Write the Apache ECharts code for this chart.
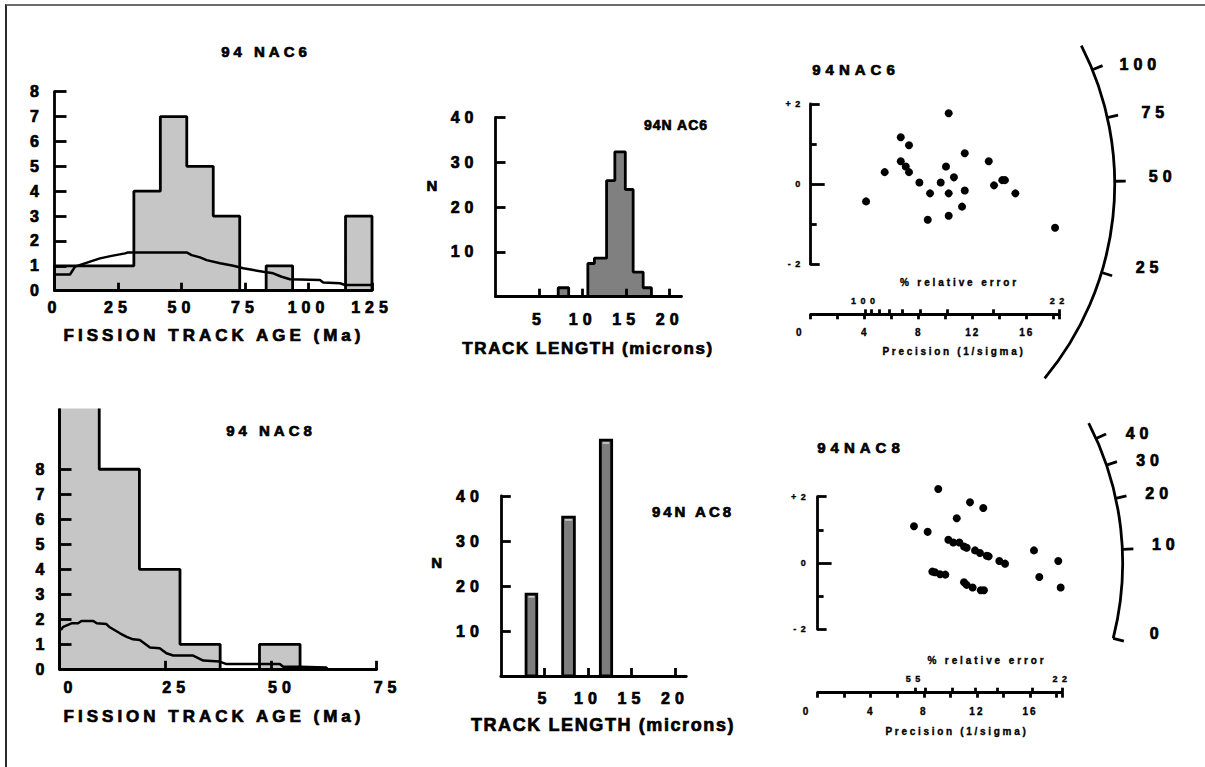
<!DOCTYPE html>
<html><head><meta charset="utf-8">
<script src="https://cdn.jsdelivr.net/npm/echarts@6/dist/echarts.min.js"></script>
<style>
html,body{margin:0;padding:0;background:#fff;overflow:hidden;}
#chart{position:absolute;left:0;top:0;width:1205px;height:767px;}
#frame{position:absolute;left:5px;top:4px;width:1300px;height:900px;border-top:2px solid #6b6b6b;border-left:2px solid #2a2a2a;pointer-events:none;}
</style></head><body>
<div id="chart"></div><div id="frame"></div>
<script>
// ================= DATA =================
// 94NAC6 – fission track age histogram (Ma)
const ageEdges6 = [0, 10.42, 20.83, 31.25, 41.67, 52.08, 62.5, 72.92, 83.33, 93.75, 104.17, 114.58, 125];
const ageCounts6 = [1, 1, 1, 4, 7, 5, 3, 0, 1, 0, 0, 3];
const pdfAge6 = [0.2, 6.1, 8.1, 14, 17.9, 22.5, 27.8, 29, 52, 54, 57.3, 59.9, 65.2, 70.4, 74.3, 78.3, 82.2, 86.1, 89.4, 92.7, 104.5, 105.8, 112.4, 114.4, 125];
const pdfVal6 = [0.65, 0.65, 0.97, 1.17, 1.3, 1.4, 1.5, 1.54, 1.54, 1.43, 1.34, 1.23, 1.1, 1.0, 0.9, 0.83, 0.76, 0.7, 0.56, 0.46, 0.43, 0.33, 0.3, 0.23, 0.23];
const ageTicks6 = [0, 25, 50, 75, 100, 125];
const countTicks = [0, 1, 2, 3, 4, 5, 6, 7, 8];

// 94NAC8 – fission track age histogram (Ma)
const ageEdges8 = [0, 9.4, 18.9, 28.5, 38, 47.3, 56.9];
const ageCounts8 = [16, 8, 4, 1, 0, 1];
const pdfAge8 = [0.33, 0.88, 2.85, 4.4, 5.2, 8.0, 8.8, 11.1, 11.9, 14.3, 15.9, 17.4, 19, 20.6, 21.4, 23.7, 25.3, 26.9, 31.6, 34, 37.9, 39.5, 52.1, 52.9, 56.8, 63.1, 63.5];
const pdfVal8 = [1.57, 1.7, 1.84, 1.84, 1.93, 1.93, 1.84, 1.81, 1.68, 1.44, 1.3, 1.2, 1.17, 0.97, 0.87, 0.84, 0.64, 0.55, 0.55, 0.35, 0.31, 0.21, 0.21, 0.1, 0.1, 0.07, 0];
const ageTicks8 = [0, 25, 50, 75];

// Track length histograms (microns)
const lenStart6 = [7.2, 10.6, 11.35, 12.75, 13.7, 14.9, 15.8, 16.95];
const lenEnd6 = [8.4, 11.35, 12.75, 13.7, 14.9, 15.8, 16.95, 17.9];
const lenCounts6 = [2, 7.4, 8.6, 25.9, 32.3, 23.9, 5.5, 2.0];
const lenStart8 = [2.9, 7.1, 11.43];
const lenEnd8 = [4.13, 8.45, 12.73];
const lenCounts8 = [18.2, 35.3, 52.4];
const lenTicks = [5, 10, 15, 20];
const nTicks = [10, 20, 30, 40];

// Radial plots: precision (1/sigma) and standardised estimate
const precC = [4.10, 5.48, 6.67, 7.28, 6.67, 7.04, 7.28, 8.05, 8.84, 8.67, 9.63, 10.02, 10.22, 10.22, 10.22, 10.61, 11.41, 11.41, 11.21, 13.19, 13.58, 14.19, 14.39, 15.16, 18.10];
const stdC = [-0.43, 0.30, 1.17, 0.97, 0.57, 0.44, 0.30, 0.04, -0.23, -0.89, 0.04, 0.44, 1.77, -0.23, -0.79, 0.17, 0.77, -0.16, -0.56, 0.57, -0.03, 0.10, 0.10, -0.23, -1.09];
const precF = [9.09, 11.48, 12.48, 10.48, 7.26, 8.29, 9.85, 10.22, 10.68, 11.03, 11.23, 11.86, 12.23, 12.74, 12.89, 13.69, 14.12, 16.3, 18.13, 16.7, 18.31, 8.64, 8.84, 9.22, 9.62, 11.03, 11.23, 11.68, 12.29, 12.53];
const stdF = [2.23, 1.83, 1.66, 1.35, 1.11, 0.94, 0.70, 0.62, 0.62, 0.50, 0.46, 0.38, 0.30, 0.22, 0.20, 0.06, -0.02, 0.38, 0.06, -0.42, -0.74, -0.26, -0.28, -0.34, -0.35, -0.58, -0.66, -0.74, -0.82, -0.82];
const precTicks = [0, 2, 4, 6, 8, 10, 12, 14, 16, 18];
const precLabels = [0, 4, 8, 12, 16];
const relErrK = 405;             // precision = K / % relative error
const relErrTicksC = [100, 90, 80, 70, 60, 50, 40, 30, 22];
const relErrLabelsC = [100, 22];
const relErrTicksF = [55, 50, 40, 34, 30, 25, 22];
const relErrLabelsF = [55, 22];
// Radial age scales (arc radius in precision units, tick ages and their angles in degrees)
const arcRadiusC = 22.52;
const arcAgesC = [100, 75, 50, 25];
const arcAnglesC = [22.1, 12.65, 0.55, -16.9];
const arcRadiusF = 22.98;
const arcAgesF = [40, 30, 20, 10, 0];
const arcAnglesF = [24.1, 18.7, 12.25, 2.57, -14.3];

// ================= HELPERS =================
const FONT = 'Liberation Sans';
const INK = '#000';
const LW = 2.8;
function histPath(starts, ends, counts) {
  const pts = []; let lastX = null;
  for (let i = 0; i < counts.length; i++) {
    if (lastX === null || Math.abs(starts[i] - lastX) > 1e-9) {
      if (lastX !== null) pts.push([lastX, 0]);
      pts.push([starts[i], 0]);
    }
    pts.push([starts[i], counts[i]]);
    lastX = ends[i];
  }
  pts.push([lastX, 0]);
  return pts;
}
const zip = (a, b) => a.map((v, i) => [v, b[i]]);
const precMax = relErrK / 22;

function ax(o) {
  const fs = o.fontSize || 16;
  return {
    type: 'value', gridIndex: o.grid, min: o.min, max: o.max, z: 10,
    position: o.position, offset: o.offset || 0,
    axisLine: { show: o.line !== false, onZero: false, lineStyle: { color: INK, width: LW } },
    splitLine: { show: false },
    axisTick: o.ticks ? { show: true, inside: o.tickInside !== false, length: o.tickLen || 8, customValues: o.ticks, lineStyle: { color: INK, width: LW } } : { show: false },
    axisLabel: o.labels ? {
      show: true, customValues: o.labels, inside: !!o.labelInside, margin: o.margin,
      color: INK, fontFamily: FONT, fontWeight: 'bold', fontSize: fs,
      textBorderColor: INK, textBorderWidth: fs >= 13 ? 0.7 : 0.35,
      padding: o.padding || 0,
      formatter: o.formatter, rich: o.rich
    } : { show: false }
  };
}
const yLab = v => v > 0 ? '+2' : (v < 0 ? '-2' : '0');
const zeroLeft = v => v === 0 ? '{z|0}' : String(v);
const zRich = { z: { padding: [0, 22, 0, 0], fontFamily: FONT, fontWeight: 'bold', fontSize: 10, color: INK, textBorderColor: INK, textBorderWidth: 0.35 } };

function arcRender(a0, a1) {
  return function (params, api) {
    const o = api.coord([0, 0]);
    const r = api.size([api.value(0), 0])[0];
    return { type: 'arc', shape: { cx: o[0], cy: o[1], r: r, startAngle: -a1 * Math.PI / 180, endAngle: -a0 * Math.PI / 180, clockwise: true },
      style: { stroke: INK, lineWidth: LW, fill: null } };
  };
}
function arcTickRender(R, labelDx) {
  return function (params, api) {
    const o = api.coord([0, 0]);
    const r = api.size([R, 0])[0];
    const th = api.value(1) * Math.PI / 180;
    const c = Math.cos(th), s = Math.sin(th);
    const x1 = o[0] + r * c, y1 = o[1] - r * s;
    const x2 = o[0] + (r + 11) * c, y2 = o[1] - (r + 11) * s;
    return { type: 'group', children: [
      { type: 'line', shape: { x1: x1, y1: y1, x2: x2, y2: y2 }, style: { stroke: INK, lineWidth: LW } },
      { type: 'text', x: x1 + labelDx, y: y1 - 5, style: { text: String(api.value(0)), fill: INK, stroke: INK, lineWidth: 0.7, fontFamily: FONT, fontWeight: 'bold', fontSize: 16, align: 'center', verticalAlign: 'middle', textAlign: 'center', textVerticalAlign: 'middle' } }
    ] };
  };
}
function barRender(params, api) {
  const p0 = api.coord([api.value(0), api.value(2)]);
  const p1 = api.coord([api.value(1), 0]);
  return { type: 'group', children: [
    { type: 'rect', shape: { x: p0[0], y: p0[1], width: p1[0] - p0[0], height: p1[1] - p0[1] }, style: { fill: '#7d7d7d', stroke: INK, lineWidth: LW } },
    { type: 'line', shape: { x1: p0[0] + 2.5, y1: p0[1] + 2.8, x2: p1[0] - 2.5, y2: p0[1] + 2.8 }, style: { stroke: '#fff', lineWidth: 1 } }
  ] };
}
function txt(text, x, y, size) {
  return { type: 'text', x: x, y: y, silent: true, style: { text: text, fill: INK, stroke: INK, lineWidth: size >= 13 ? 0.7 : 0.35, fontFamily: FONT, fontWeight: 'bold', fontSize: size, align: 'center', verticalAlign: 'middle', textAlign: 'center', textVerticalAlign: 'middle' } };
}

// ================= OPTION =================
const option = {
  animation: false,
  backgroundColor: '#fff',
  grid: [
    { left: 54.5, top: 91.7, width: 317.5, height: 199 },      // 0 A
    { left: 495.5, top: 117.3, width: 186, height: 179.4 },    // 1 B
    { left: 810.7, top: 104, width: precMax * 13.5, height: 160.3 }, // 2 C
    { left: 59.5, top: 410, width: 317.1, height: 259.3 },     // 3 D
    { left: 500.8, top: 496, width: 185.5, height: 180 },      // 4 E
    { left: 817.6, top: 496.7, width: precMax * 13.275, height: 132.6 } // 5 F
  ],
  xAxis: [
    ax({ grid: 0, min: 0, max: 125, ticks: ageTicks6, labels: ageTicks6, margin: 9, tickLen: 8 }),
    ax({ grid: 1, min: 0, max: 21.35, ticks: lenTicks, labels: lenTicks, margin: 15, tickLen: 8 }),
    ax({ grid: 2, min: 0, max: precMax, position: 'bottom', offset: 50, ticks: precTicks.concat([precMax]), tickInside: false, tickLen: 5, labels: precLabels, margin: 13, fontSize: 10, formatter: zeroLeft, rich: zRich }),
    ax({ grid: 2, min: 0, max: precMax, position: 'bottom', offset: 50, line: false, ticks: relErrTicksC.map(e => relErrK / e), tickLen: 5, labels: relErrLabelsC.map(e => relErrK / e), labelInside: true, margin: 9, fontSize: 9, formatter: v => String(Math.round(relErrK / v)) }),
    ax({ grid: 3, min: 0, max: 75, ticks: ageTicks8, labels: ageTicks8, margin: 10, tickLen: 8.5, padding: [0, 0, 0, 22] }),
    ax({ grid: 4, min: 0, max: 21.3, ticks: lenTicks, labels: lenTicks, margin: 14, tickLen: 8 }),
    ax({ grid: 5, min: 0, max: precMax, position: 'bottom', offset: 63.4, ticks: precTicks.concat([precMax]), tickInside: false, tickLen: 5, labels: precLabels, margin: 14, fontSize: 10, formatter: zeroLeft, rich: zRich }),
    ax({ grid: 5, min: 0, max: precMax, position: 'bottom', offset: 63.4, line: false, ticks: relErrTicksF.map(e => relErrK / e), tickLen: 5, labels: relErrLabelsF.map(e => relErrK / e), labelInside: true, margin: 9, fontSize: 9, formatter: v => String(Math.round(relErrK / v)) })
  ],
  yAxis: [
    ax({ grid: 0, min: 0, max: 8, position: 'left', ticks: countTicks, labels: countTicks, margin: 10.5, tickLen: 12 }),
    ax({ grid: 1, min: 0, max: 40, position: 'left', ticks: nTicks, labels: nTicks, margin: 17, tickLen: 10 }),
    ax({ grid: 2, min: -2, max: 2, position: 'left', ticks: [-2, 2], labels: [-2, 0, 2], margin: 6, tickLen: 9, fontSize: 9, formatter: yLab }),
    ax({ grid: 2, min: -2, max: 2, position: 'left', line: false, ticks: [-1, 1], tickLen: 6 }),
    ax({ grid: 2, min: -2, max: 2, position: 'left', line: false, ticks: [0], tickLen: 14 }),
    ax({ grid: 3, min: 0, max: 10.37, position: 'left', ticks: countTicks, labels: countTicks, margin: 10, tickLen: 12 }),
    ax({ grid: 4, min: 0, max: 40, position: 'left', ticks: nTicks, labels: nTicks, margin: 17, tickLen: 10 }),
    ax({ grid: 5, min: -2, max: 2, position: 'left', ticks: [-2, 2], labels: [-2, 0, 2], margin: 7.3, tickLen: 9, fontSize: 9, formatter: yLab }),
    ax({ grid: 5, min: -2, max: 2, position: 'left', line: false, ticks: [-1, 1], tickLen: 6 }),
    ax({ grid: 5, min: -2, max: 2, position: 'left', line: false, ticks: [0], tickLen: 14 })
  ],
  series: [
    // A
    { type: 'line', xAxisIndex: 0, yAxisIndex: 0, step: 'end', symbol: 'none', data: histPath(ageEdges6.slice(0, -1), ageEdges6.slice(1), ageCounts6),
      lineStyle: { color: INK, width: LW }, areaStyle: { color: '#c6c6c6', opacity: 1 } },
    { type: 'line', xAxisIndex: 0, yAxisIndex: 0, symbol: 'none', data: zip(pdfAge6, pdfVal6), lineStyle: { color: INK, width: 2.5 }, z: 3 },
    // B
    { type: 'line', xAxisIndex: 1, yAxisIndex: 1, step: 'end', symbol: 'none', data: histPath(lenStart6, lenEnd6, lenCounts6),
      lineStyle: { color: INK, width: LW }, areaStyle: { color: '#808080', opacity: 1 } },
    // C
    { type: 'scatter', xAxisIndex: 2, yAxisIndex: 2, symbol: 'circle', symbolSize: 8, clip: false, data: zip(precC, stdC), itemStyle: { color: INK, opacity: 1 } },
    { type: 'custom', xAxisIndex: 2, yAxisIndex: 2, data: [[arcRadiusC, 0]], renderItem: arcRender(-39.7, 27.1), clip: false, silent: true },
    { type: 'custom', xAxisIndex: 2, yAxisIndex: 2, data: zip(arcAgesC, arcAnglesC), renderItem: arcTickRender(arcRadiusC, 48), clip: false, silent: true },
    // D
    { type: 'line', xAxisIndex: 4, yAxisIndex: 5, step: 'end', symbol: 'none', clip: true, data: histPath(ageEdges8.slice(0, -1), ageEdges8.slice(1), ageCounts8),
      lineStyle: { color: INK, width: LW }, areaStyle: { color: '#c6c6c6', opacity: 1 } },
    { type: 'line', xAxisIndex: 4, yAxisIndex: 5, symbol: 'none', data: zip(pdfAge8, pdfVal8), lineStyle: { color: INK, width: 2.5 }, z: 3 },
    // E
    { type: 'custom', xAxisIndex: 5, yAxisIndex: 6, clip: false, encode: { x: [0, 1], y: 2 },
      data: lenStart8.map((s, i) => [s, lenEnd8[i], lenCounts8[i]]), renderItem: barRender },
    // F
    { type: 'scatter', xAxisIndex: 6, yAxisIndex: 7, symbol: 'circle', symbolSize: 8, clip: false, data: zip(precF, stdF), itemStyle: { color: INK, opacity: 1 } },
    { type: 'custom', xAxisIndex: 6, yAxisIndex: 7, data: [[arcRadiusF, 0]], renderItem: arcRender(-14.3, 27.3), clip: false, silent: true },
    { type: 'custom', xAxisIndex: 6, yAxisIndex: 7, data: zip(arcAgesF, arcAnglesF), renderItem: arcTickRender(arcRadiusF, 43.5), clip: false, silent: true }
  ],
  graphic: [
    txt('94 NAC6', 266, 51, 15),
    txt('FISSION TRACK AGE (Ma)', 214, 335, 17),
    txt('94 NAC8', 271, 430, 15),
    txt('FISSION TRACK AGE (Ma)', 214, 716, 17),
    txt('94N AC6', 676, 125, 14),
    txt('N', 432, 185, 15),
    txt('TRACK LENGTH (microns)', 588, 348, 17),
    txt('94N AC8', 693, 511, 15),
    txt('N', 436.7, 562.7, 15),
    txt('TRACK LENGTH (microns)', 603, 725, 18),
    txt('94NAC6', 856, 69.3, 15),
    txt('% relative error', 959.5, 282.3, 10),
    txt('Precision (1/sigma)', 954, 351, 10),
    txt('94NAC8', 861, 447.7, 15),
    txt('% relative error', 987, 660, 10),
    txt('Precision (1/sigma)', 957, 731, 10)
  ]
};

const chart = echarts.init(document.getElementById('chart'), null, { renderer: 'svg', width: 1205, height: 767 });
chart.setOption(option);

// letter spacing to mimic the widely tracked lettering of the original figure
const SPACING = {
  '94 NAC6': 4, '94 NAC8': 4, 'FISSION TRACK AGE (Ma)': 4,
  '94N AC6': 1, '94N AC8': 3, '94NAC6': 5, '94NAC8': 5,
  'TRACK LENGTH (microns)': y => (y < 400 ? 1.6 : 2.4),
  '% relative error': y => (y < 400 ? 2.9 : 2.6),
  'Precision (1/sigma)': 2.7
};
function applySpacing() {
  document.querySelectorAll('#chart svg text').forEach(el => {
    const t = (el.textContent || '').trim();
    let s = null;
    if (SPACING[t] !== undefined) {
      let y = 0; try { y = el.getBBox().y; } catch (e) {}
      s = typeof SPACING[t] === 'function' ? SPACING[t](y) : SPACING[t];
    } else if (/^[-+0-9]+$/.test(t)) {
      const fs = parseFloat(getComputedStyle(el).fontSize) || 12;
      s = fs >= 13 ? 5 : (fs >= 9.5 ? 2 : 4.5);
    }
    if (s !== null) el.style.letterSpacing = s + 'px';
  });
}
applySpacing();
chart.on('finished', applySpacing);
setTimeout(applySpacing, 50);
</script>
</body></html>
